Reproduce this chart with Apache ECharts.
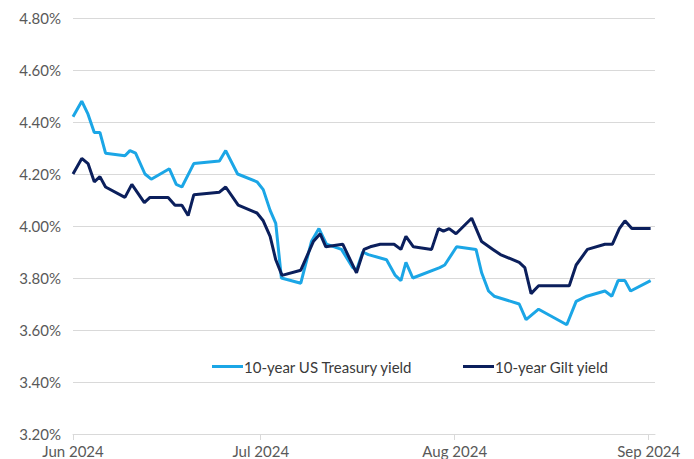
<!DOCTYPE html>
<html>
<head>
<meta charset="utf-8">
<script src="https://cdn.jsdelivr.net/npm/echarts@6/dist/echarts.min.js"></script>
<style>
  html, body { margin: 0; padding: 0; background: #fff; }
  #chart { width: 694px; height: 459px; }
</style>
</head>
<body>
<div id="chart"></div>
<script>
// days after 1 Jun 2024
const usDays = [0, 1.4, 2.4, 3.4, 4.3, 5.2, 8.3, 9.1, 10.0, 11.5, 12.5, 15.4, 16.5, 17.4, 19.3, 23.4, 24.4, 26.3, 29.4, 30.4, 31.5, 32.4, 33.3, 36.4, 38.1, 39.3, 40.5, 42.9, 44.7, 45.3, 46.3, 47.2, 50.1, 51.5, 52.4, 53.2, 54.3, 58.6, 59.4, 61.3, 64.4, 65.3, 66.4, 67.3, 71.3, 72.4, 74.4, 78.9, 80.4, 82.1, 85.0, 86.1, 87.1, 88.2, 89.1, 92.3];
const usYield = [4.42, 4.48, 4.43, 4.36, 4.36, 4.28, 4.27, 4.29, 4.28, 4.20, 4.18, 4.22, 4.16, 4.15, 4.24, 4.25, 4.29, 4.20, 4.17, 4.14, 4.06, 4.01, 3.80, 3.78, 3.94, 3.99, 3.93, 3.91, 3.84, 3.83, 3.90, 3.89, 3.87, 3.81, 3.79, 3.86, 3.80, 3.84, 3.85, 3.92, 3.91, 3.82, 3.75, 3.73, 3.70, 3.64, 3.68, 3.62, 3.71, 3.73, 3.75, 3.73, 3.79, 3.79, 3.75, 3.79];

const giltDays = [0, 1.4, 2.4, 3.4, 4.3, 5.2, 8.3, 9.4, 11.4, 12.3, 15.2, 16.3, 17.4, 18.4, 19.3, 23.4, 24.4, 26.4, 29.4, 30.4, 31.5, 32.4, 33.4, 36.4, 38.4, 39.5, 40.4, 43.1, 45.3, 46.5, 47.5, 49.1, 51.3, 52.4, 53.2, 54.4, 57.3, 58.4, 59.2, 60.1, 61.2, 63.7, 65.3, 67.1, 68.3, 71.3, 72.2, 73.2, 74.4, 79.3, 80.4, 82.2, 85.0, 86.2, 87.3, 88.2, 89.3, 92.3];
const giltYield = [4.20, 4.26, 4.24, 4.17, 4.19, 4.15, 4.11, 4.16, 4.09, 4.11, 4.11, 4.08, 4.08, 4.04, 4.12, 4.13, 4.15, 4.08, 4.05, 4.02, 3.96, 3.87, 3.81, 3.83, 3.94, 3.97, 3.92, 3.93, 3.82, 3.91, 3.92, 3.93, 3.93, 3.91, 3.96, 3.92, 3.91, 3.99, 3.98, 3.99, 3.97, 4.03, 3.94, 3.91, 3.89, 3.86, 3.84, 3.74, 3.77, 3.77, 3.85, 3.91, 3.93, 3.93, 3.99, 4.02, 3.99, 3.99];

const monthNames = ['Jan', 'Feb', 'Mar', 'Apr', 'May', 'Jun', 'Jul', 'Aug', 'Sep', 'Oct', 'Nov', 'Dec'];

const DAY = 86400000;
const start = Date.UTC(2024, 5, 1);

function toPoints(days, values) {
  return days.map((d, i) => [start + d * DAY, values[i]]);
}

const font = 'Lato';
const chart = echarts.init(document.getElementById('chart'), null, { renderer: 'svg' });

chart.setOption({
  animation: false,
  textStyle: { fontFamily: font },
  grid: { left: 73, right: 39, top: 18, bottom: 25, containLabel: false },
  legend: {
    top: 354,
    left: 207,
    itemGap: 50,
    itemWidth: 31,
    itemHeight: 3,
    icon: 'rect',
    textStyle: { fontFamily: font, fontSize: 15, color: '#3a3a3a', padding: [0, 0, 0, -4] },
    data: ['10-year US Treasury yield', '10-year Gilt yield']
  },
  xAxis: {
    type: 'time',
    min: start,
    max: Date.UTC(2024, 8, 2),
    minInterval: 28 * DAY,
    maxInterval: 31 * DAY,
    axisLine: { lineStyle: { color: '#d9d9d9' } },
    axisTick: { show: true, length: 6, lineStyle: { color: '#d9d9d9' } },
    splitLine: { show: false },
    axisLabel: {
      fontFamily: font,
      fontSize: 15,
      color: '#595959',
      margin: 9,
      hideOverlap: false,
      formatter: v => {
        const d = new Date(v);
        return monthNames[d.getUTCMonth()] + ' ' + d.getUTCFullYear();
      }
    }
  },
  yAxis: {
    type: 'value',
    min: 3.2,
    max: 4.8,
    interval: 0.2,
    axisLine: { show: false },
    axisTick: { show: false },
    splitLine: { lineStyle: { color: '#d9d9d9', width: 1 } },
    axisLabel: {
      fontFamily: font,
      fontSize: 15,
      color: '#595959',
      margin: 12,
      formatter: v => v.toFixed(2) + '%'
    }
  },
  series: [
    {
      name: '10-year US Treasury yield',
      type: 'line',
      data: toPoints(usDays, usYield),
      showSymbol: false,
      color: '#1ba6e6',
      lineStyle: { width: 3, color: '#1ba6e6' }
    },
    {
      name: '10-year Gilt yield',
      type: 'line',
      data: toPoints(giltDays, giltYield),
      showSymbol: false,
      color: '#0b1f5c',
      lineStyle: { width: 3, color: '#0b1f5c' }
    }
  ]
});
</script>
</body>
</html>
